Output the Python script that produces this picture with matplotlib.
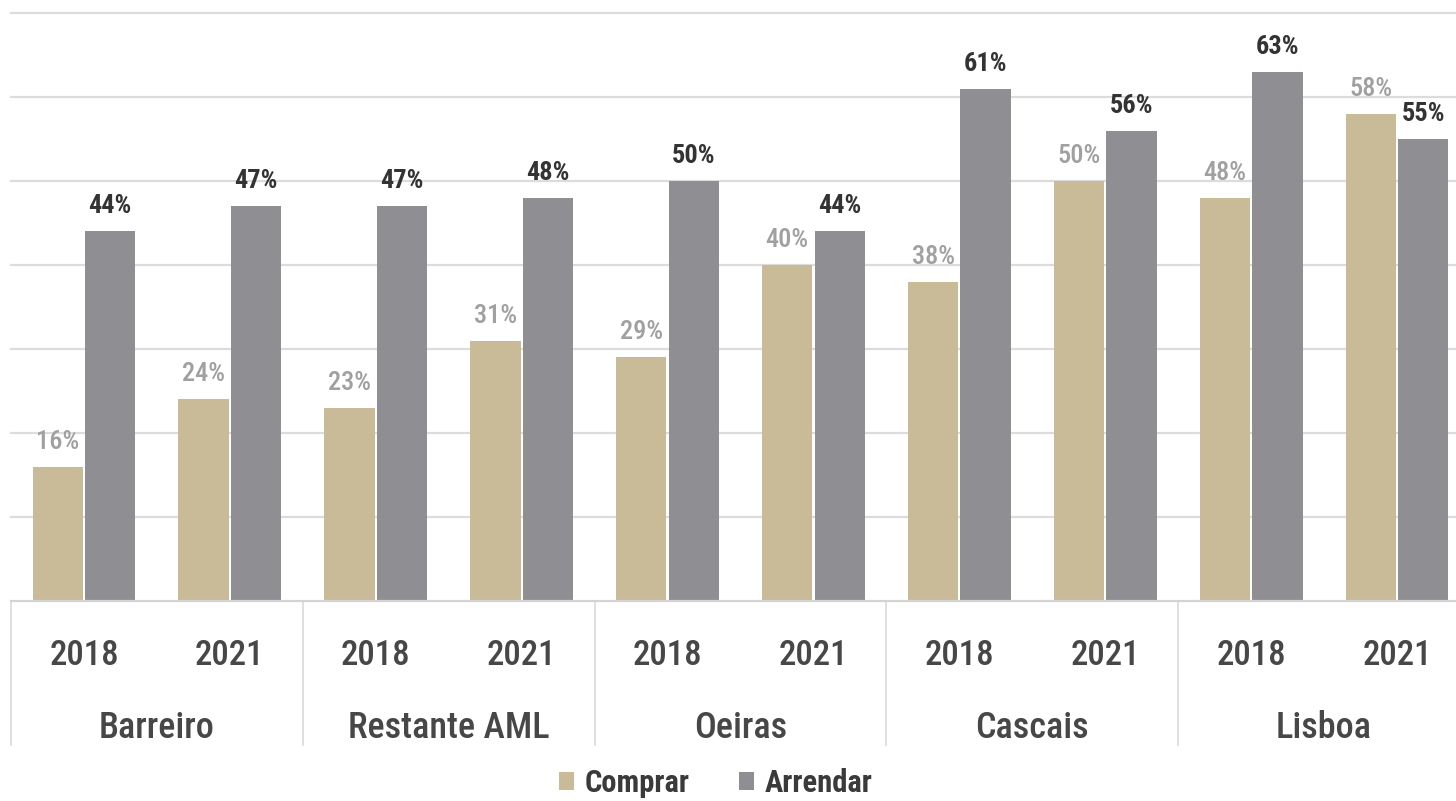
import numpy as np
import matplotlib
matplotlib.use("Agg")
import matplotlib.pyplot as plt
from matplotlib import font_manager as fm
from matplotlib.patches import Patch

# ---- data -------------------------------------------------------------
regions = ["Barreiro", "Restante AML", "Oeiras", "Cascais", "Lisboa"]
years = ["2018", "2021"]
comprar = [16, 24, 23, 31, 29, 40, 38, 50, 48, 58]
arrendar = [44, 47, 47, 48, 50, 44, 61, 56, 63, 55]
series_names = ["Comprar", "Arrendar"]
y_ticks = [10, 20, 30, 40, 50, 60, 70]

# ---- styling ----------------------------------------------------------
C_COMPRAR = "#c9bb97"
C_ARRENDAR = "#8e8e93"
C_GRID = "#dcdcdc"
C_TICK = "#474747"
C_LBL_COMPRAR = "#a0a0a0"
C_LBL_ARRENDAR = "#333333"

# pick a narrow sans family if one is installed
_entries = fm.fontManager.ttflist
_names = {f.name for f in _entries}
if "Roboto Condensed" in _names:
    FAMILY, STRETCH = "Roboto Condensed", "normal"
elif "Liberation Sans Narrow" in _names:
    FAMILY, STRETCH = "Liberation Sans Narrow", "normal"
elif any(f.name == "DejaVu Sans" and f.stretch == "condensed" for f in _entries):
    FAMILY, STRETCH = "DejaVu Sans", "condensed"
else:
    FAMILY, STRETCH = "Roboto", "normal"

# use a true medium weight only when the family ships one
_weights = {f.weight for f in _entries if f.name == FAMILY}
MID = 500 if (500 in _weights or "medium" in _weights) else "normal"

plt.rcParams["font.family"] = [FAMILY, "DejaVu Sans"]
plt.rcParams["font.stretch"] = STRETCH

W, H = 1456, 801
fig = plt.figure(figsize=(W / 100, H / 100), dpi=100)
fig.patch.set_facecolor("white")

# axes spans slightly past the right edge of the canvas
ax = fig.add_axes([11 / W, 200 / H, 1459 / W, 588 / H])
ax.set_facecolor("white")

n = len(comprar)
x = np.arange(n)
bw = 0.345
off = 0.18

ax.set_xlim(-0.5, n - 0.5)
ax.set_ylim(0, 70)

for t in y_ticks:
    ax.axhline(t, color=C_GRID, lw=1.6, zorder=0, clip_on=False)
ax.axhline(0, color="#d3d3d3", lw=1.6, zorder=3, clip_on=False)

b1 = ax.bar(x - off, comprar, width=bw, color=C_COMPRAR, zorder=2)
b2 = ax.bar(x + off, arrendar, width=bw, color=C_ARRENDAR, zorder=2)

for xi, v in zip(x, comprar):
    ax.annotate(f"{v}%", (xi - off, v), xytext=(0, 13), textcoords="offset points",
                ha="center", va="baseline", fontsize=19, color=C_LBL_COMPRAR,
                fontweight=MID, zorder=4)
for xi, v in zip(x, arrendar):
    ax.annotate(f"{v}%", (xi + off, v), xytext=(0, 13), textcoords="offset points",
                ha="center", va="baseline", fontsize=19, color=C_LBL_ARRENDAR,
                fontweight="bold", zorder=4)

for s in ax.spines.values():
    s.set_visible(False)
ax.set_xticks([])
ax.set_yticks([])

# two-level category axis
xt = ax.get_xaxis_transform()
for i in range(n):
    ax.text(i, (601 - 665) / 588, years[i % 2], transform=xt, ha="center",
            va="baseline", fontsize=25, color=C_TICK, fontweight=MID,
            clip_on=False)
for r, name in enumerate(regions):
    ax.text(2 * r + 0.5, (601 - 738) / 588, name, transform=xt, ha="center",
            va="baseline", fontsize=26, color=C_TICK, fontweight=MID,
            clip_on=False)
for b in np.arange(-0.5, n, 2):
    ax.plot([b, b], [0, (601 - 745) / 588], transform=xt, color=C_GRID,
            lw=1.3, clip_on=False)

handles = [Patch(facecolor=C_COMPRAR), Patch(facecolor=C_ARRENDAR)]
fig.legend(handles, series_names, loc="center", bbox_to_anchor=(716 / W, 1 - 783 / H),
           ncol=2, frameon=False, handlelength=0.5, handleheight=0.5,
           handletextpad=0.35, columnspacing=1.6,
           prop={"family": [FAMILY, "DejaVu Sans"], "stretch": STRETCH,
                 "weight": "bold", "size": 22},
           labelcolor="#3a3a3a")

fig.savefig("out.png", dpi=100, facecolor="white")
